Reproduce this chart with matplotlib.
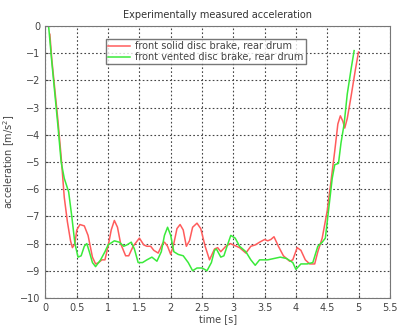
import numpy as np
import matplotlib
matplotlib.use('Agg')
import matplotlib.pyplot as plt

# values
t_solid = [0.07, 0.1, 0.2, 0.25, 0.3, 0.35, 0.4, 0.43, 0.47, 0.5, 0.55, 0.62, 0.68, 0.75, 0.8,
           0.85, 0.9, 0.95, 1.0, 1.05, 1.1, 1.15, 1.2, 1.28, 1.33, 1.4, 1.5, 1.57, 1.62, 1.68,
           1.73, 1.8, 1.87, 1.9, 1.95, 2.0, 2.05, 2.1, 2.15, 2.2, 2.25, 2.3, 2.35, 2.42, 2.48,
           2.55, 2.62, 2.7, 2.75, 2.8, 2.88, 2.95, 3.0, 3.1, 3.2, 3.28, 3.35, 3.42, 3.5, 3.55,
           3.6, 3.65, 3.72, 3.8, 3.9, 3.95, 4.02, 4.08, 4.15, 4.22, 4.3, 4.35, 4.42, 4.5, 4.55,
           4.62, 4.67, 4.71, 4.75, 4.78, 4.82, 4.88, 4.95, 5.0]
a_solid = [-0.3, -1.2, -3.5, -4.8, -6.3, -7.2, -7.9, -8.15, -8.0, -7.5, -7.3, -7.35, -7.7, -8.5, -8.75,
           -8.7, -8.6, -8.6, -8.1, -7.5, -7.15, -7.4, -8.0, -8.45, -8.45, -8.1, -7.8, -8.05, -8.1, -8.1,
           -8.25, -8.35, -8.0, -7.95, -8.1, -8.4, -8.0, -7.45, -7.3, -7.5, -8.1, -7.9, -7.4, -7.25, -7.45,
           -8.1, -8.6, -8.2, -8.15, -8.3, -8.1, -8.0, -8.05, -8.15, -8.35, -8.1, -8.05, -7.95, -7.85, -7.9,
           -7.85, -7.75, -8.1, -8.45, -8.65, -8.6, -8.15, -8.25, -8.6, -8.75, -8.75, -8.3, -7.8, -6.8, -5.9,
           -4.6, -3.6, -3.3, -3.5, -3.75, -3.4, -2.6, -1.6, -0.95]

t_vented = [0.05, 0.1, 0.2, 0.25, 0.3, 0.37, 0.42, 0.47, 0.52, 0.57, 0.62, 0.66, 0.7, 0.75, 0.8,
            0.88, 0.95, 1.0, 1.1, 1.18, 1.25, 1.3, 1.37, 1.42, 1.48, 1.55, 1.62, 1.7, 1.78, 1.85,
            1.9, 1.95, 2.0, 2.05, 2.12, 2.2, 2.28, 2.35, 2.42, 2.5, 2.58, 2.65, 2.7, 2.73, 2.8,
            2.85, 2.9, 2.96, 3.03, 3.1, 3.2, 3.28, 3.35, 3.42, 3.55, 3.65, 3.75, 3.85, 3.95, 4.0,
            4.08, 4.18, 4.27, 4.35, 4.42, 4.47, 4.52, 4.58, 4.62, 4.68, 4.72, 4.77, 4.82, 4.88, 4.93]
a_vented = [0.0, -1.3, -3.7, -5.0, -5.6, -6.1, -7.0, -8.0, -8.5, -8.45, -8.1, -8.0, -8.3, -8.7, -8.85,
            -8.6, -8.3, -8.05, -7.9, -7.95, -8.1, -8.05, -7.95, -8.2, -8.7, -8.7, -8.6, -8.5, -8.65, -8.3,
            -7.7, -7.4, -7.7, -8.3, -8.4, -8.45, -8.7, -9.0, -8.9, -8.9, -9.0, -8.7, -8.25, -8.2, -8.5,
            -8.45, -8.1, -7.7, -7.8, -8.1, -8.3, -8.6, -8.8, -8.6, -8.6, -8.55, -8.5, -8.55, -8.7, -8.95,
            -8.75, -8.75, -8.7, -8.1, -7.95, -7.8, -6.8, -5.6, -5.1, -5.05, -4.3, -3.6, -2.5, -1.6, -0.9]

x_ticks = np.arange(0, 5.51, 0.5)
x_labels = ['0', '0.5', '1', '1.5', '2', '2.5', '3', '3.5', '4', '4.5', '5', '5.5']
y_ticks = np.arange(-10, 0.1, 1)

fig = plt.figure(figsize=(3.99, 3.31), dpi=100)
ax = fig.add_axes([0.114, 0.1, 0.863, 0.821])

ax.plot(t_solid, a_solid, color='#ff5c5c', lw=1.1, label='front solid disc brake, rear drum')
ax.plot(t_vented, a_vented, color='#3aea3a', lw=1.1, label='front vented disc brake, rear drum')

ax.set_xlim(0, 5.5)
ax.set_ylim(-10, 0)
ax.set_xticks(x_ticks)
ax.set_xticklabels(x_labels)
ax.set_yticks(y_ticks)
ax.grid(True, linestyle=(0, (1.5, 2)), color='#444444', lw=0.8)
ax.tick_params(labelsize=7, colors='#444444', length=2, direction='in')
for s in ax.spines.values():
    s.set_color('#777777')

ax.set_title('Experimentally measured acceleration', fontsize=7, color='#333333', pad=6)
ax.set_xlabel('time [s]', fontsize=7, color='#444444', labelpad=1)
ax.set_ylabel('acceleration [m/s$^2$]', fontsize=7, color='#444444', labelpad=2)

leg = ax.legend(loc='upper center', bbox_to_anchor=(0.466, 0.952), fontsize=7, frameon=True,
                fancybox=False, edgecolor='#555555', handlelength=2.2, borderpad=0.2,
                labelspacing=0.1, handletextpad=0.6, borderaxespad=0)
for txt in leg.get_texts():
    txt.set_color('#444444')

fig.savefig('out.png', dpi=100)
